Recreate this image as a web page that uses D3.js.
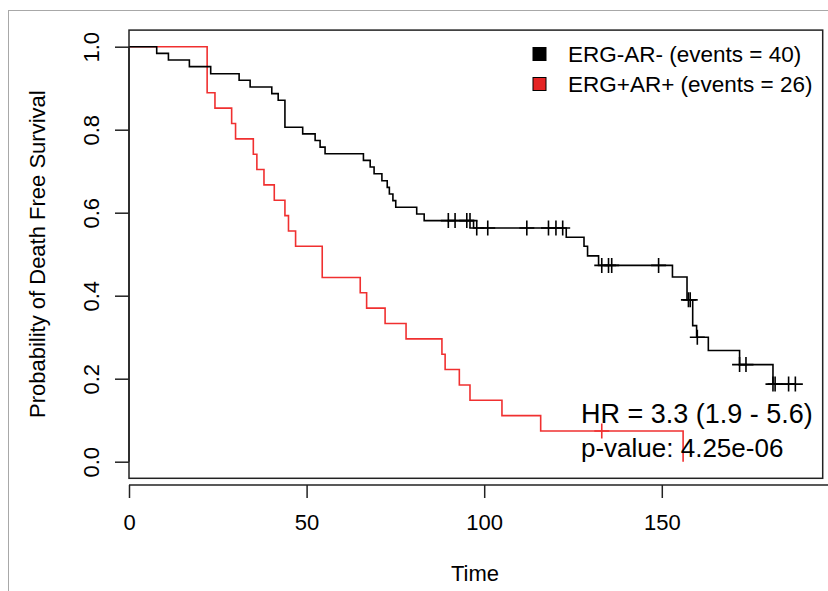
<!DOCTYPE html>
<html>
<head>
<meta charset="utf-8">
<script src="https://cdn.jsdelivr.net/npm/d3@7"></script>
<style>
  body { margin: 0; background: #fff; }
  text { font-family: "Liberation Sans", Arial, sans-serif; fill: #000; }
</style>
</head>
<body>
<div id="chart"></div>
<script>
// ERG-AR- group: step times and survival after each step
var blackTimes = [7.8, 11.1, 17.0, 23.0, 31.0, 34.1, 40.2, 42.0, 43.9, 48.9, 52.4, 53.8, 55.2,
  66.0, 67.9, 69.0, 71.2, 72.7, 73.3, 74.3, 75.1, 81.0, 83.1, 97.0, 123.1, 128.1, 129.1, 132.2,
  153.0, 157.1, 158.7, 159.8, 163.1, 171.9, 181.3];
var blackSurv = [0.984, 0.968, 0.952, 0.935, 0.919, 0.903, 0.887, 0.871, 0.806, 0.790, 0.774, 0.758, 0.742,
  0.726, 0.710, 0.694, 0.677, 0.661, 0.645, 0.629, 0.613, 0.597, 0.581, 0.563, 0.541, 0.519, 0.496, 0.473,
  0.445, 0.390, 0.328, 0.300, 0.268, 0.234, 0.187];
var blackCensor = [89.9, 91.8, 95.1, 96.0, 97.9, 101.0, 112.0, 118.1, 120.2, 122.1,
  133.1, 135.0, 135.9, 149.1, 157.5, 158.0, 160.0, 171.9, 173.7, 181.3, 181.9, 185.7, 187.6];

// ERG+AR+ group
var redTimes = [22.0, 24.2, 28.9, 30.0, 35.0, 36.0, 38.0, 40.9, 43.9, 44.9, 46.9, 54.4,
  65.1, 66.9, 72.1, 78.0, 88.1, 89.0, 93.0, 96.0, 105.0, 115.9, 156.0];
var redSurv = [0.889, 0.852, 0.815, 0.778, 0.741, 0.704, 0.667, 0.630, 0.593, 0.556, 0.519, 0.444,
  0.407, 0.370, 0.333, 0.296, 0.259, 0.222, 0.185, 0.148, 0.111, 0.074, 0.0];
var redCensor = [133.1];

var xTicks = [0, 50, 100, 150];
var yTicks = [0, 0.2, 0.4, 0.6, 0.8, 1.0];
var legendLabels = ["ERG-AR- (events = 40)", "ERG+AR+ (events = 26)"];
var statLines = ["HR = 3.3 (1.9 - 5.6)", "p-value: 4.25e-06"];

var black = "#000000";
var red = "#f03030";
var redFill = "#e52424";

var W = 828, H = 591;
var box = { left: 129, right: 822.7, top: 30.1, bottom: 478.3 };

var x = d3.scaleLinear().domain([0, 195.3]).range([box.left, box.right]);
var y = d3.scaleLinear().domain([-0.04, 1.04]).range([box.bottom, box.top]);

var svg = d3.select("#chart").append("svg")
  .attr("width", W).attr("height", H);

// outer frame
svg.append("rect")
  .attr("x", 8.5).attr("y", 10.5).attr("width", W + 20).attr("height", H + 20)
  .attr("fill", "none").attr("stroke", "#a8a8a8").attr("stroke-width", 1);

// survival curves
function stepPoints(times, surv) {
  var pts = [[0, 1]];
  times.forEach(function (t, i) { pts.push([t, surv[i]]); });
  return pts;
}
var line = d3.line()
  .x(function (d) { return x(d[0]); })
  .y(function (d) { return y(d[1]); })
  .curve(d3.curveStepAfter);

var bPts = stepPoints(blackTimes, blackSurv);
bPts.push([d3.max(blackCensor), blackSurv[blackSurv.length - 1]]);
var rPts = stepPoints(redTimes, redSurv);

svg.append("path").attr("d", line(rPts))
  .attr("fill", "none").attr("stroke", red).attr("stroke-width", 1.6);
svg.append("path").attr("d", line(bPts))
  .attr("fill", "none").attr("stroke", black).attr("stroke-width", 1.6);

// survival value at a time (for censor marks)
function survAt(times, surv, t) {
  var s = 1;
  times.forEach(function (tt, i) { if (tt <= t) s = surv[i]; });
  return s;
}
function crosses(list, times, surv, col) {
  var arm = 7.5;
  list.forEach(function (t) {
    var cx = x(t), cy = y(survAt(times, surv, t));
    svg.append("path")
      .attr("d", "M" + (cx - arm) + "," + cy + "H" + (cx + arm) + "M" + cx + "," + (cy - arm) + "V" + (cy + arm))
      .attr("stroke", col).attr("stroke-width", 1.6).attr("fill", "none");
  });
}
crosses(blackCensor, blackTimes, blackSurv, black);
crosses(redCensor, redTimes, redSurv, red);

// box
svg.append("rect")
  .attr("x", box.left).attr("y", box.top)
  .attr("width", box.right - box.left).attr("height", box.bottom - box.top)
  .attr("fill", "none").attr("stroke", "#222").attr("stroke-width", 1.5);

// x axis (drawn slightly below the box, line runs on past the last label)
var xAxis = d3.axisBottom(x).tickValues(xTicks).tickSize(13).tickFormat(d3.format("d"));
var gx = svg.append("g").attr("transform", "translate(0,485)").call(xAxis);
gx.select(".domain").attr("stroke", "#222").attr("stroke-width", 1.5)
  .attr("d", "M" + x(0) + ",0H" + (W + 5));
gx.selectAll(".tick line").attr("stroke", "#222").attr("stroke-width", 1.5);
gx.selectAll(".tick text").attr("font-size", 22).attr("dy", 0).attr("y", 45)
  .style("font-family", "Liberation Sans, Arial, sans-serif");

// y axis
var yAxis = d3.axisLeft(y).tickValues(yTicks).tickSize(14).tickFormat(d3.format(".1f"));
var gy = svg.append("g").attr("transform", "translate(" + box.left + ",0)").call(yAxis);
gy.select(".domain").attr("stroke", "#222").attr("stroke-width", 1.5)
  .attr("d", "M0," + y(0) + "V" + y(1));
gy.selectAll(".tick line").attr("stroke", "#222").attr("stroke-width", 1.5);
gy.selectAll(".tick text")
  .attr("font-size", 22).attr("x", 0).attr("dy", 0)
  .attr("text-anchor", "middle")
  .attr("transform", "translate(-30,0) rotate(-90)")
  .style("font-family", "Liberation Sans, Arial, sans-serif");

// axis titles
svg.append("text").attr("x", 475).attr("y", 581)
  .attr("text-anchor", "middle").attr("font-size", 22).text("Time");
svg.append("text")
  .attr("transform", "translate(45," + y(0.5) + ") rotate(-90)")
  .attr("text-anchor", "middle").attr("font-size", 22)
  .text("Probability of Death Free Survival");

// legend
var legCols = [black, redFill];
var legRows = [54, 84];
legendLabels.forEach(function (lab, i) {
  svg.append("rect")
    .attr("x", 533).attr("y", legRows[i] - 6.5).attr("width", 13).attr("height", 13)
    .attr("fill", legCols[i]).attr("stroke", "#000").attr("stroke-width", 1);
  svg.append("text").attr("x", 568).attr("y", legRows[i] + 8)
    .attr("font-size", 22.5).text(lab);
});

// HR and p-value
var statRows = [423, 457];
var statSizes = [27, 26];
statLines.forEach(function (s, i) {
  svg.append("text").attr("x", 581).attr("y", statRows[i])
    .attr("font-size", statSizes[i]).text(s);
});
</script>
</body>
</html>
